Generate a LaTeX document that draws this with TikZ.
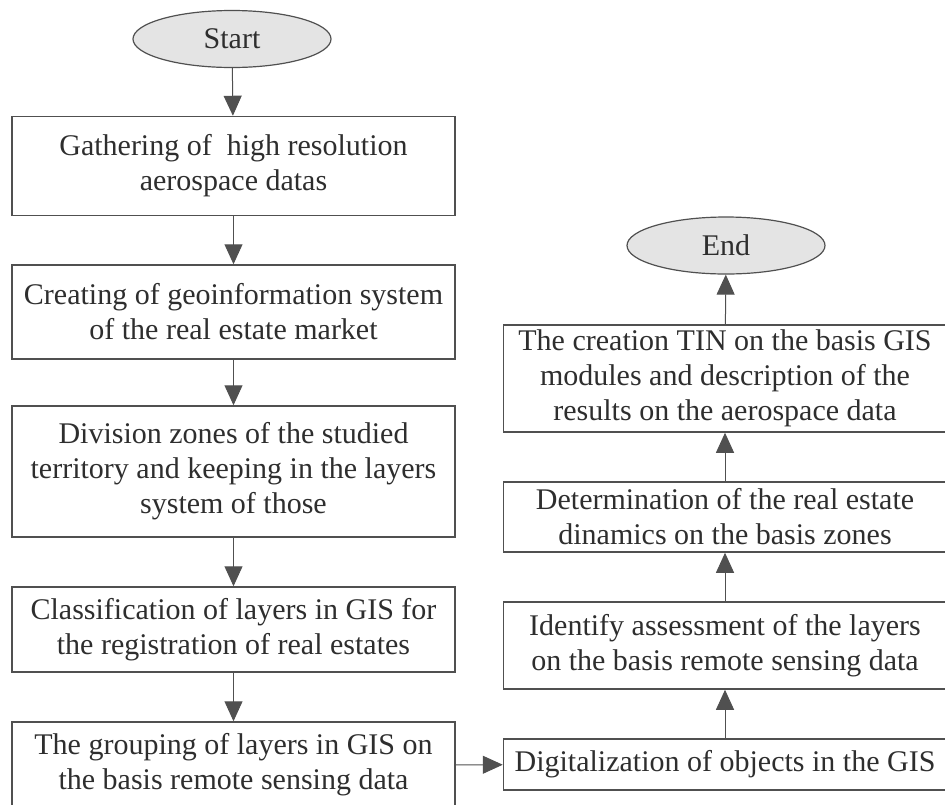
\documentclass[tikz,border=0pt]{standalone}
\usepackage{fontspec}
\setmainfont{Liberation Serif}
\usetikzlibrary{arrows.meta, shapes.geometric}
\definecolor{linegray}{HTML}{505050}
\definecolor{textgray}{HTML}{2E2E2E}
\definecolor{fillgray}{HTML}{E4E4E4}
\tikzset{
  stepbox/.style={
    rectangle,
    draw=linegray,
    line width=0.75pt,
    align=center,
    text=textgray,
    minimum width=221.5pt,
    inner sep=0pt,
    font=\fontsize{15}{17.5}\selectfont
  },
  terminal/.style={
    ellipse,
    draw=linegray,
    fill=fillgray,
    line width=0.6pt,
    text=textgray,
    minimum width=99pt,
    minimum height=28.5pt,
    inner sep=0pt,
    font=\fontsize{15}{17.5}\selectfont
  },
  arrow/.style={-{Triangle[length=10pt,width=9pt]}, draw=linegray, line width=0.5pt}
}

\begin{document}
\begin{tikzpicture}[x=0.5pt,y=-0.5pt]
\useasboundingbox (0,0) rectangle (945,804);
% left column
\node[terminal] (start) at (232,39) {Start};
\node[stepbox, minimum height=49.5pt] (gathering) at (233.5,166) {Gathering of\ \ high resolution\\aerospace datas};
\node[stepbox, minimum height=47pt] (creating) at (233.5,312) {Creating of geoinformation system\\of the real estate market};
\node[stepbox, minimum height=65.5pt] (division) at (233.5,471.5) {Division zones of the studied\\territory and keeping in the layers\\system of those};
\node[stepbox, minimum height=42.5pt] (classif) at (233.5,629.5) {Classification of layers in GIS for\\the registration of real estates};
\node[stepbox, minimum height=43pt] (grouping) at (233.5,765) {The grouping of layers in GIS on\\the basis remote sensing data};
% right column
\node[stepbox, minimum height=25.5pt] (digital) at (725,764.5) {Digitalization of objects in the GIS};
\node[stepbox, minimum height=43.5pt] (identify) at (725,645.5) {Identify assessment of the layers\\on the basis remote sensing data};
\node[stepbox, minimum height=35pt] (dynamics) at (725,517) {Determination of the real estate\\dinamics on the basis zones};
\node[stepbox, minimum height=53.5pt] (tin) at (725,378.5) {The creation TIN on the basis GIS\\modules and description of the\\results on the aerospace data};
\node[terminal] (end) at (726,245.5) {End};

\draw[arrow] (start) -- (gathering);
\draw[arrow] (gathering) -- (creating);
\draw[arrow] (creating) -- (division);
\draw[arrow] (division) -- (classif);
\draw[arrow] (classif) -- (grouping);
\draw[arrow] (grouping) -- (digital);
\draw[arrow] (digital) -- (identify);
\draw[arrow] (identify) -- (dynamics);
\draw[arrow] (dynamics) -- (tin);
\draw[arrow] (tin) -- (end);
\end{tikzpicture}
\end{document}
